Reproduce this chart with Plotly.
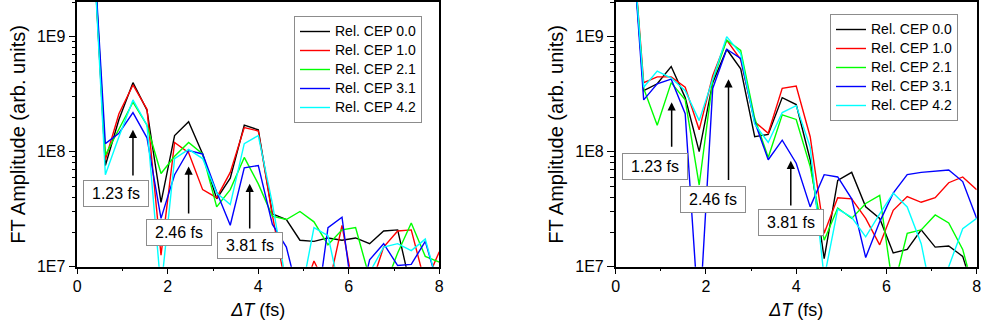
import plotly.graph_objects as go

# ---------------- data ----------------
delay_fs = [0.00, 0.31, 0.62, 0.92, 1.23, 1.54, 1.85, 2.15, 2.46, 2.77, 3.08, 3.38, 3.69,
            4.00, 4.31, 4.62, 4.92, 5.23, 5.54, 5.85, 6.15, 6.46, 6.77, 7.08, 7.38, 7.69, 8.00]

series_names = ["Rel. CEP 0.0", "Rel. CEP 1.0", "Rel. CEP 2.1", "Rel. CEP 3.1", "Rel. CEP 4.2"]
series_colors = ["#000000", "#ff0000", "#00ff00", "#0000ff", "#00ffff"]

# log10 of FT amplitude, left panel
left_cep00 = [10.5, 10.13, 7.88, 8.28, 8.60, 8.36, 7.56, 8.14, 8.26, 7.98, 7.59, 7.77, 8.23,
              8.19, 7.46, 7.41, 7.23, 7.22, 7.25, 7.23, 7.25, 7.20, 7.31, 7.32, 6.80, 6.80, 6.80]
left_cep10 = [10.5, 10.13, 7.93, 8.33, 8.58, 8.37, 7.10, 8.08, 7.99, 7.67, 7.60, 7.82, 8.21,
              8.18, 7.45, 6.80, 6.70, 7.05, 6.80, 7.36, 6.70, 6.80, 7.17, 7.31, 7.32, 6.85, 7.13]
left_cep21 = [10.5, 10.13, 7.97, 8.19, 8.43, 8.23, 7.81, 7.96, 8.08, 7.98, 7.52, 7.67, 7.95,
              7.72, 7.44, 7.41, 7.48, 7.39, 7.19, 7.32, 7.34, 6.90, 6.80, 7.12, 7.38, 7.09, 7.04]
left_cep31 = [10.5, 10.13, 8.07, 8.16, 8.34, 8.12, 7.42, 7.80, 8.01, 7.98, 7.65, 7.36, 7.86,
              7.88, 7.37, 7.17, 6.70, 6.45, 7.34, 7.43, 6.54, 7.06, 7.20, 7.01, 7.02, 7.22, 6.80]
left_cep42 = [10.5, 10.13, 7.80, 8.13, 8.45, 8.23, 6.80, 7.94, 8.02, 7.94, 7.64, 7.54, 8.07,
              8.14, 7.55, 6.85, 6.70, 7.34, 7.27, 6.70, 6.70, 6.95, 7.17, 7.20, 7.14, 7.24, 6.80]

# log10 of FT amplitude, right panel
right_cep00 = [10.5, 10.15, 8.53, 8.59, 8.74, 8.47, 8.00, 8.60, 8.89, 8.72, 8.13, 8.15, 8.47,
               8.41, 7.93, 7.07, 7.75, 7.82, 7.52, 7.42, 7.12, 7.15, 7.32, 7.17, 7.18, 7.09, 6.70]
right_cep10 = [10.5, 10.15, 8.60, 8.65, 8.65, 8.56, 8.19, 8.66, 8.97, 8.80, 8.26, 8.16, 8.55,
               8.57, 8.13, 7.29, 7.60, 7.59, 7.42, 7.19, 7.49, 7.61, 7.56, 7.60, 7.73, 7.78, 7.67]
right_cep21 = [10.5, 10.15, 8.55, 8.23, 8.60, 8.45, 7.71, 8.62, 8.97, 8.88, 8.29, 7.95, 8.32,
               8.28, 7.87, 7.23, 7.51, 7.42, 7.55, 7.62, 6.80, 7.29, 7.32, 7.45, 7.38, 7.15, 6.70]
right_cep31 = [10.5, 10.15, 8.45, 8.59, 8.63, 8.33, 6.50, 8.55, 8.89, 8.81, 8.26, 7.93, 8.10,
               7.90, 7.52, 7.80, 7.78, 7.59, 7.08, 7.39, 7.64, 7.80, 7.82, 7.83, 7.84, 7.74, 7.42]
right_cep42 = [10.5, 10.15, 8.56, 8.70, 8.64, 8.53, 8.27, 8.62, 9.00, 8.85, 8.24, 8.08, 8.34,
               8.40, 8.04, 6.90, 7.50, 7.43, 7.26, 7.46, 7.64, 7.52, 7.20, 6.60, 7.00, 7.33, 7.42]

left_series = [left_cep00, left_cep10, left_cep21, left_cep31, left_cep42]
right_series = [right_cep00, right_cep10, right_cep21, right_cep31, right_cep42]

y_tick_vals = [1e7, 1e8, 1e9]
y_tick_text = ["1E7", "1E8", "1E9"]
x_tick_vals = [0, 2, 4, 6, 8]
x_tick_text = ["0", "2", "4", "6", "8"]

# peak markers: (label, arrow x, arrow head log10, arrow tail log10, box x, box log10)
left_marks = [("1.23 fs", 1.23, 8.19, 7.78, 0.86, 7.64),
              ("2.46 fs", 2.46, 7.87, 7.45, 2.25, 7.30),
              ("3.81 fs", 3.81, 7.72, 7.32, 3.81, 7.18)]
right_marks = [("1.23 fs", 1.24, 8.43, 8.03, 0.86, 7.87),
               ("2.46 fs", 2.50, 8.63, 7.74, 2.16, 7.58),
               ("3.81 fs", 3.88, 7.92, 7.52, 3.89, 7.38)]

FONT = "Arial, 'Liberation Sans', sans-serif"

def legend_label(name):
    return '<span style="font-size:14px">' + name + '</span>'

fig = go.Figure()
for i in range(5):
    fig.add_trace(go.Scatter(x=delay_fs, y=[10 ** v for v in left_series[i]], mode="lines",
                             name=legend_label(series_names[i]),
                             line=dict(color=series_colors[i], width=1.4),
                             xaxis="x", yaxis="y", legend="legend"))
for i in range(5):
    fig.add_trace(go.Scatter(x=delay_fs, y=[10 ** v for v in right_series[i]], mode="lines",
                             name=legend_label(series_names[i]),
                             line=dict(color=series_colors[i], width=1.4),
                             xaxis="x2", yaxis="y2", legend="legend2"))

W, H = 981, 329
ydom = [1 - 266.7 / H, 1 - 2 / H]
xdom1 = [77.3 / W, 439.3 / W]
xdom2 = [615.7 / W, 976.7 / W]

def xaxis(dom, anchor):
    return dict(domain=dom, anchor=anchor, range=[0, 8], tickvals=x_tick_vals, ticktext=x_tick_text,
                ticks="outside", ticklen=6, tickwidth=1.2, tickcolor="black", automargin=False,
                minor=dict(ticks="outside", ticklen=3, dtick=1, tickcolor="black", tickwidth=1.2),
                showline=True, linecolor="black", linewidth=1.5, mirror=True, showgrid=False,
                zeroline=False, tickfont=dict(size=16, color="black", family=FONT),
                ticklabelstandoff=-2, ticklabeloverflow="allow",
                title=dict(text="<i>ΔT</i> (fs)", font=dict(size=18, color="black", family=FONT), standoff=10))

def yaxis(dom, anchor):
    return dict(domain=dom, anchor=anchor, type="log", range=[7, 9.301],
                tickvals=y_tick_vals, ticktext=y_tick_text, automargin=False,
                ticks="outside", ticklen=7, tickwidth=1.2, tickcolor="black",
                minor=dict(ticks="outside", ticklen=4, dtick="D1", tickcolor="black", tickwidth=1.2),
                showline=True, linecolor="black", linewidth=1.5, mirror=True, showgrid=False,
                zeroline=False, tickfont=dict(size=16, color="black", family=FONT),
                ticklabeloverflow="allow",
                title=dict(text="FT Amplitude (arb. units)", font=dict(size=20, color="black", family=FONT),
                           standoff=6))

legend_common = dict(bgcolor="white", bordercolor="#8c8c8c", borderwidth=1,
                     font=dict(size=11, color="black", family=FONT), itemwidth=30,
                     tracegroupgap=0, xanchor="left", yanchor="top")

fig.update_layout(
    width=W, height=H, margin=dict(l=0, r=0, t=0, b=0),
    plot_bgcolor="white", paper_bgcolor="white",
    xaxis=xaxis(xdom1, "y"), yaxis=yaxis(ydom, "x"),
    xaxis2=xaxis(xdom2, "y2"), yaxis2=yaxis(ydom, "x2"),
    legend=dict(x=294 / W, y=1 - 16 / H, **legend_common),
    legend2=dict(x=830 / W, y=1 - 14 / H, **legend_common),
    showlegend=True,
)

annotations = []
for marks, xr, yr in [(left_marks, "x", "y"), (right_marks, "x2", "y2")]:
    for label, axx, head, tail, bx, by in marks:
        annotations.append(dict(x=axx, y=head, ax=axx, ay=tail, xref=xr, yref=yr, axref=xr, ayref=yr,
                                text="", showarrow=True, arrowhead=2, arrowsize=1.1, arrowwidth=1.5,
                                arrowcolor="black", standoff=0, startstandoff=0))
        annotations.append(dict(x=bx, y=by, xref=xr, yref=yr, text=label, showarrow=False,
                                font=dict(size=16, color="black", family=FONT),
                                bgcolor="white", bordercolor="#8c8c8c", borderwidth=1, borderpad=4,
                                width=56, height=17))
fig.update_layout(annotations=annotations)

fig.write_html("out.html")
